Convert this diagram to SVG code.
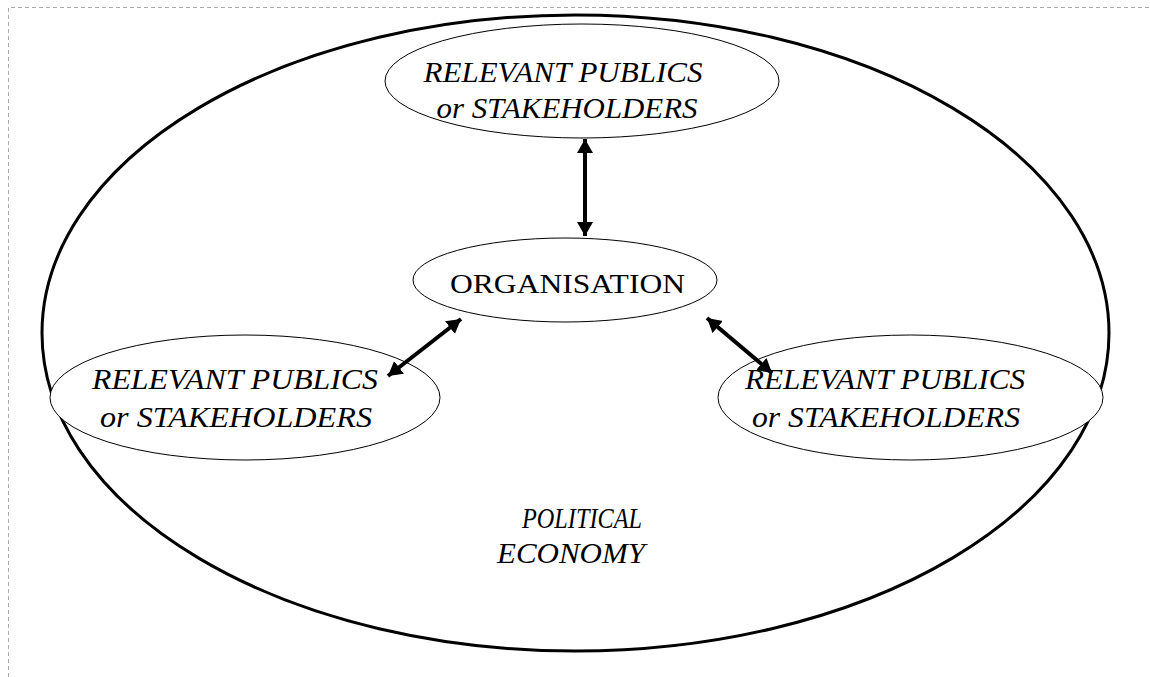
<svg xmlns="http://www.w3.org/2000/svg" width="1150" height="677" viewBox="0 0 1150 677">
<defs>
<style>
.node{fill:#fff;stroke:#000;stroke-width:1}
.lbl{font-family:"Liberation Serif","Times New Roman",serif;font-size:29px;font-style:italic;fill:#000;text-anchor:middle}
.up{font-style:normal;font-size:28px}
.conn{stroke:#000;stroke-width:4;fill:none}
</style>
<marker id="ah" markerUnits="userSpaceOnUse" markerWidth="18" markerHeight="18" refX="14" refY="8" orient="auto-start-reverse">
<path d="M0,0 L14,8 L0,16 z" fill="#000"/>
</marker>
</defs>
<rect width="1150" height="677" fill="#fff"/>
<path d="M8.5,677 V7.5 H1150" fill="none" stroke="#aaa" stroke-width="1" stroke-dasharray="4,3"/>
<g id="political-economy">
<ellipse cx="575.5" cy="333" rx="533.5" ry="318" fill="none" stroke="#000" stroke-width="3"/>
<text class="lbl" x="582" y="528" textLength="120" lengthAdjust="spacingAndGlyphs">POLITICAL</text>
<text class="lbl" x="571" y="563" textLength="148" lengthAdjust="spacingAndGlyphs">ECONOMY</text>
</g>
<g id="top-publics">
<ellipse class="node" cx="582" cy="81" rx="197" ry="57"/>
<text class="lbl" x="563" y="82" textLength="279" lengthAdjust="spacingAndGlyphs">RELEVANT PUBLICS</text>
<text class="lbl" x="567" y="118" textLength="261" lengthAdjust="spacingAndGlyphs">or STAKEHOLDERS</text>
</g>
<g id="organisation">
<ellipse class="node" cx="565" cy="280" rx="152" ry="42"/>
<text class="lbl up" x="567.5" y="293" textLength="235" lengthAdjust="spacingAndGlyphs">ORGANISATION</text>
</g>
<g id="left-publics">
<ellipse class="node" cx="245" cy="397.5" rx="195" ry="62.5"/>
<text class="lbl" x="235" y="389" textLength="286" lengthAdjust="spacingAndGlyphs">RELEVANT PUBLICS</text>
<text class="lbl" x="236" y="427" textLength="272" lengthAdjust="spacingAndGlyphs">or STAKEHOLDERS</text>
</g>
<g id="right-publics">
<ellipse class="node" cx="910.5" cy="397.5" rx="192.5" ry="62.5"/>
<text class="lbl" x="885" y="389" textLength="280" lengthAdjust="spacingAndGlyphs">RELEVANT PUBLICS</text>
<text class="lbl" x="886" y="427" textLength="268" lengthAdjust="spacingAndGlyphs">or STAKEHOLDERS</text>
</g>
<g id="connectors">
<line class="conn" x1="585" y1="139" x2="585" y2="236" marker-start="url(#ah)" marker-end="url(#ah)"/>
<line class="conn" x1="461" y1="319" x2="388" y2="376" marker-start="url(#ah)" marker-end="url(#ah)"/>
<line class="conn" x1="707" y1="318" x2="772" y2="373" marker-start="url(#ah)" marker-end="url(#ah)"/>
</g>
</svg>
